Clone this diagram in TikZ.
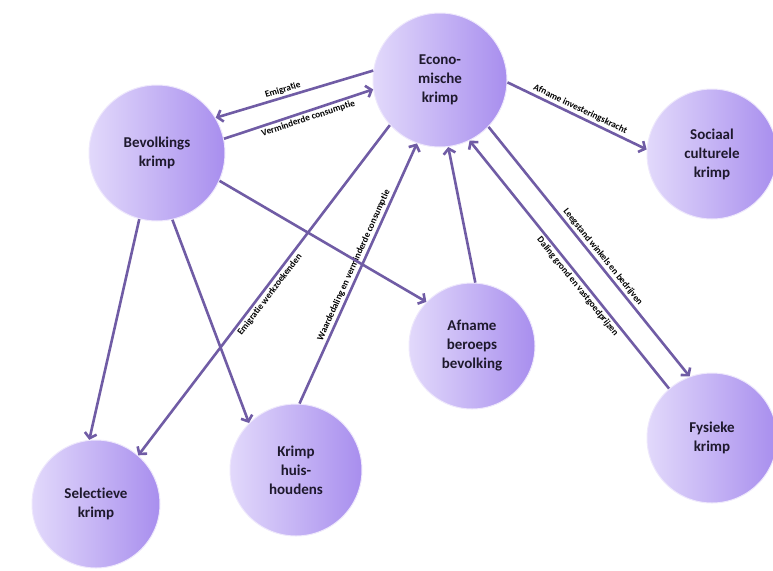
\documentclass[tikz,border=0pt]{standalone}
\usepackage{fontspec}
\setmainfont{Carlito}[Ligatures=NoCommon]
\usetikzlibrary{arrows.meta}
\definecolor{arr}{RGB}{112,92,165}
\definecolor{lavL}{RGB}{226,217,251}
\definecolor{lavR}{RGB}{168,142,238}
\definecolor{txt}{RGB}{30,25,45}
\tikzset{
 bubble/.style={circle, inner sep=0pt, minimum size=#1, align=center,
   font=\fontsize{15}{19}\selectfont\bfseries, text=txt,
   left color=lavL, right color=lavR, draw=white!80!lavR, line width=1pt},
 conn/.style={draw=arr, line width=2.6pt, -{Straight Barb[length=5pt,width=12pt]}},
 lbl/.style={font=\fontsize{9.3}{10}\selectfont\bfseries, text=black, sloped, inner sep=2pt},
}
\begin{document}
\begin{tikzpicture}[x=1pt,y=-1pt]
\useasboundingbox (0,0) rectangle (773,570);
\node[bubble=134pt] (E) at (440,80) {Econo-\\mische\\krimp};
\node[bubble=136pt] (B) at (157,153) {Bevolkings\\krimp};
\node[bubble=130pt] (S) at (712,154) {Sociaal\\culturele\\krimp};
\node[bubble=126pt] (A) at (472,346) {Afname\\beroeps\\bevolking};
\node[bubble=130pt] (F) at (712,438) {Fysieke\\krimp};
\node[bubble=132pt] (K) at (296,470) {Krimp\\huis-\\houdens};
\node[bubble=128pt] (Se) at (96,504) {Selectieve\\krimp};

\draw[conn] (E.172) -- node[lbl,above,pos=0.56]{Emigratie} (B.31);
\draw[conn] (B.12) -- node[lbl,below,pos=0.55]{Verminderde consumptie} (E.188);
\draw[conn] (E.358) -- node[lbl,above,pos=0.5]{Afname investeringskracht} (S.176);
\draw[conn] (E.222) -- node[lbl,below,pos=0.5]{Emigratie werkzoekenden} (Se.49);
\draw[conn] (K.87) -- node[lbl,above,pos=0.52]{Waardedaling en verminderde consumptie} (E.250);
\draw[conn] (B.336) -- (A.136);
\draw[conn] (A.87) -- (E.277);
\draw[conn] (E.316) -- node[lbl,above,pos=0.54]{Leegstand winkels en bedrijven} (F.110);
\draw[conn] (F.131) -- node[lbl,below,pos=0.43]{Daling grond en vastgoedprijzen} (E.296);
\draw[conn] (B.255) -- (Se.96);
\draw[conn] (B.283) -- (K.135);
\end{tikzpicture}
\end{document}
